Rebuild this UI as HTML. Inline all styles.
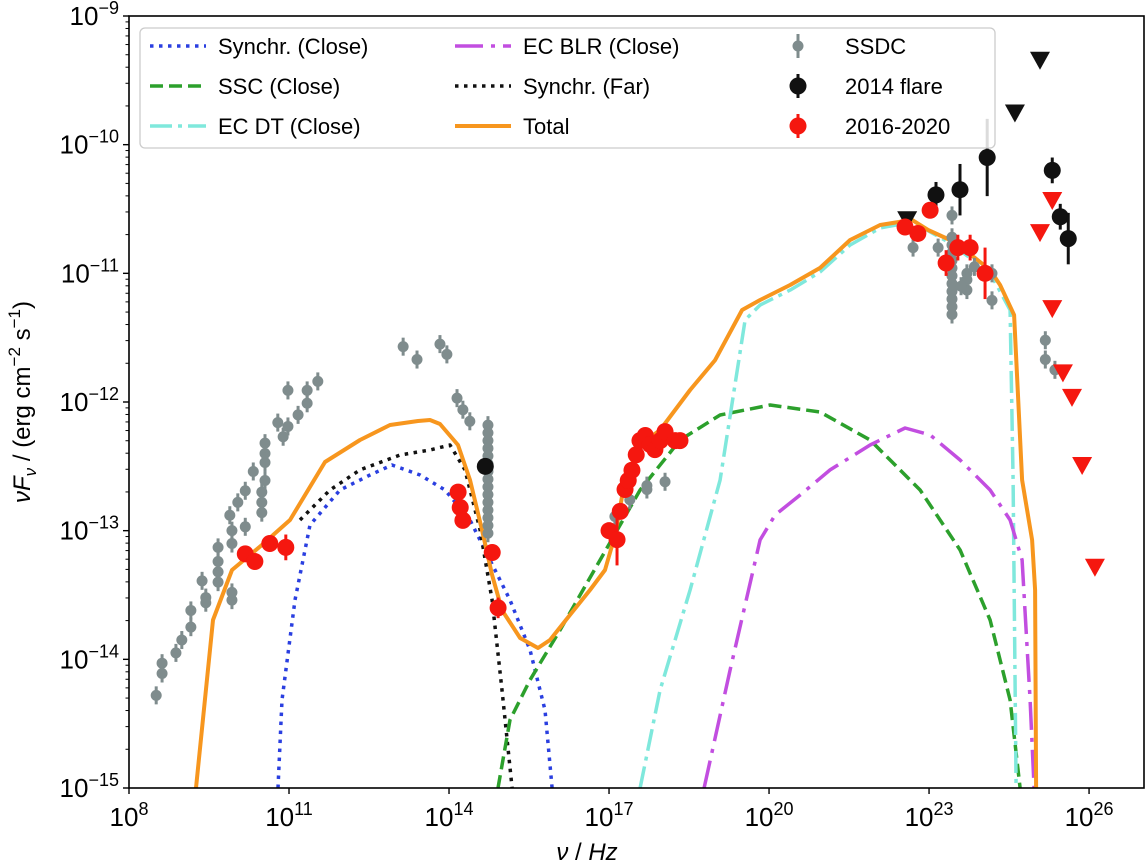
<!DOCTYPE html>
<html><head><meta charset="utf-8"><style>
html,body{margin:0;padding:0;background:#fff;}
svg{display:block;font-family:"Liberation Sans","DejaVu Sans",sans-serif;}
</style></head><body>
<svg id="chart" width="1148" height="868" viewBox="0 0 1148 868" xmlns="http://www.w3.org/2000/svg"></svg>
<script>
// ---- data (log10 nu, log10 nuFnu) ----
const totalX=[9.256,9.575,9.931,10.494,11.019,11.675,12.331,12.894,13.419,13.644,13.831,14.169,14.394,14.619,14.807,14.994,15.332,15.669,15.894,16.269,16.644,16.925,17.113,17.3,17.582,17.957,18.519,18.988,19.494,19.832,20.394,20.957,21.519,22.082,22.682,22.982,23.395,23.864,24.145,24.332,24.595,24.745,24.932,24.989,25.007];
const totalY=[-15,-13.694,-13.306,-13.111,-12.917,-12.466,-12.295,-12.179,-12.148,-12.14,-12.171,-12.334,-12.606,-12.995,-13.344,-13.617,-13.834,-13.912,-13.85,-13.655,-13.461,-13.306,-13.034,-12.606,-12.334,-12.218,-11.907,-11.674,-11.285,-11.207,-11.091,-10.958,-10.741,-10.624,-10.585,-10.663,-10.741,-10.881,-10.974,-11.091,-11.324,-12.606,-13.072,-13.461,-15];
const synCloseX=[10.794,10.869,11.113,11.394,11.956,12.519,12.931,13.457,13.925,14.394,14.769,15.144,15.519,15.8,15.932];
const synCloseY=[-15,-14.316,-13.539,-12.956,-12.684,-12.567,-12.49,-12.567,-12.684,-12.917,-13.228,-13.539,-13.927,-14.394,-15];
const synFarX=[11.206,11.769,12.331,13.081,13.644,14.019,14.3,14.582,14.807,14.994,15.182];
const synFarY=[-12.917,-12.684,-12.528,-12.412,-12.373,-12.334,-12.528,-12.995,-13.539,-14.238,-15];
const sscX=[14.919,15.144,15.519,16.082,16.832,17.582,18.332,19.082,20.019,20.957,21.894,22.832,23.582,24.145,24.52,24.707];
const sscY=[-15,-14.471,-14.161,-13.772,-13.228,-12.684,-12.295,-12.101,-12.023,-12.078,-12.295,-12.684,-13.15,-13.694,-14.316,-15];
const ecdtX=[17.582,17.957,18.519,19.082,19.551,19.832,20.394,20.957,21.519,22.082,22.682,23.395,24.145,24.52,24.576,24.632];
const ecdtY=[-15,-14.238,-13.461,-12.606,-11.363,-11.246,-11.13,-10.99,-10.78,-10.648,-10.601,-10.764,-10.997,-11.285,-12.606,-15];
const ecblrX=[18.782,19.269,19.832,20.113,20.582,21.144,21.894,22.551,23.02,23.582,24.145,24.52,24.745,24.895,24.97];
const ecblrY=[-15,-14.083,-13.072,-12.878,-12.723,-12.528,-12.334,-12.202,-12.256,-12.451,-12.684,-12.917,-13.228,-14.316,-15];
const ssdcX=[8.51,8.62,8.62,8.88,8.99,9.16,9.16,9.37,9.44,9.44,9.67,9.67,9.67,9.67,9.93,9.93,9.89,9.93,9.93,10.04,10.18,10.18,10.33,10.49,10.49,10.49,10.55,10.55,10.55,10.55,10.79,10.89,10.98,11.17,10.98,11.34,11.34,11.54,13.14,13.40,13.83,13.96,14.15,14.26,14.39,
 14.73,14.73,14.73,14.73,14.73,14.73,14.73,14.73,14.73,14.73,14.73,14.73,14.73,14.73,14.73,
 17.11,17.39,17.71,18.05,17.71,22.70,23.17,
 23.43,23.43,23.43,23.43,23.43,23.43,23.43,23.43,23.43,23.43,23.43,23.43,
 23.71,23.71,23.71,24.18,24.18,23.60,23.85,25.18,25.18,25.36];
const ssdcY=[-14.28,-14.03,-14.11,-13.95,-13.85,-13.75,-13.62,-13.39,-13.52,-13.56,-13.40,-13.32,-13.24,-13.13,-13.54,-13.48,-12.88,-13.00,-13.10,-12.78,-12.69,-12.97,-12.54,-12.86,-12.78,-12.70,-12.61,-12.47,-12.40,-12.32,-12.16,-12.27,-12.19,-12.10,-11.91,-12.01,-11.91,-11.84,-11.57,-11.67,-11.55,-11.63,-11.97,-12.06,-12.15,
 -12.18,-12.24,-12.30,-12.36,-12.42,-12.48,-12.54,-12.60,-12.66,-12.72,-12.78,-12.84,-12.90,-12.96,-13.02,
 -12.89,-12.76,-12.68,-12.62,-12.65,-10.80,-10.80,
 -10.55,-10.72,-10.78,-10.84,-10.90,-10.96,-11.02,-11.08,-11.14,-11.20,-11.26,-11.32,
 -11.00,-11.13,-11.05,-11.00,-11.21,-11.10,-10.95,-11.52,-11.67,-11.75];
const flareX=[14.68,23.13,23.58,24.09,25.31,25.46,25.61];
const flareY=[-12.50,-10.39,-10.35,-10.10,-10.20,-10.56,-10.73];
const flareErr=[0.05,0.1,0.2,0.3,0.1,0.1,0.2];
const flareUlX=[25.08,24.61,22.59];
const flareUlY=[-9.34,-9.75,-10.58];
const recentX=[10.18,10.36,10.64,10.94,14.17,14.21,14.26,14.81,14.92,17.00,17.15,17.21,17.30,17.36,17.43,17.51,17.58,17.68,17.77,17.86,17.96,18.05,18.24,18.33,22.55,22.79,23.02,23.32,23.54,23.77,24.05];
const recentY=[-13.18,-13.24,-13.10,-13.13,-12.70,-12.82,-12.92,-13.17,-13.60,-13.00,-13.07,-12.85,-12.68,-12.61,-12.53,-12.41,-12.30,-12.26,-12.33,-12.37,-12.30,-12.23,-12.30,-12.30,-10.64,-10.69,-10.51,-10.92,-10.80,-10.80,-11.00];
const recentErr=[0.04,0.04,0.04,0.1,0.04,0.04,0.04,0.04,0.08,0.04,0.2,0.05,0.05,0.05,0.05,0.05,0.05,0.05,0.05,0.05,0.05,0.05,0.04,0.04,0.05,0.04,0.04,0.1,0.1,0.1,0.2];
const recentUlX=[25.31,25.08,25.31,25.51,25.68,25.87,26.11];
const recentUlY=[-10.43,-10.68,-11.27,-11.77,-11.96,-12.49,-13.28];
const xTicks=[8,11,14,17,20,23,26];
const yTicks=[-15,-14,-13,-12,-11,-10,-9];

const L=129,R=1144,T=16,B=788;
const X=v=>L+(v-8)*(R-L)/(27.03-8);
const Y=v=>T+(-9-v)*(B-T)/6;
const NS="http://www.w3.org/2000/svg";
const svg=document.getElementById('chart');
function mk(tag,attrs,parent){const e=document.createElementNS(NS,tag);for(const k in attrs)e.setAttribute(k,attrs[k]);(parent||svg).appendChild(e);return e;}

const defs=mk('defs',{});
const cp=mk('clipPath',{id:'clip'},defs);mk('rect',{x:L,y:T,width:R-L,height:B-T},cp);
const plot=mk('g',{'clip-path':'url(#clip)'});



function line(xs,ys,color,dash,name,w){
  const d=xs.map((x,i)=>(i?'L':'M')+X(x).toFixed(1)+','+Y(ys[i]).toFixed(1)).join('');
  const p=mk('path',{d:d,fill:'none',stroke:color,'stroke-width':w||3.5,'stroke-dasharray':dash||'none','stroke-linejoin':'round'},plot);
  
  
}
line(synCloseX,synCloseY,'#2a3fe0','3.5,5.5','synchr-close-line');
line(synFarX,synFarY,'#111','3.5,5.5','synchr-far-line');
line(sscX,sscY,'#2ca02c','13,6','ssc-close-line');
line(ecdtX,ecdtY,'#7fe8dc','22,6,4,6','ec-dt-close-line');
line(ecblrX,ecblrY,'#c24ee0','28,8,4,8','ec-blr-close-line');
line(totalX,totalY,'#f7961e','none','total-line',4);

function pts(xs,ys,errs,color,r,name,defErr){
  xs.forEach((x,i)=>{
    const e=errs?errs[i]:defErr;const cx=X(x),cy=Y(ys[i]);
    const g=mk('g',{},plot);
    
    
    mk('line',{x1:cx,x2:cx,y1:Y(ys[i]+e),y2:Y(ys[i]-e),stroke:color,'stroke-width':3},g);
    mk('circle',{cx:cx,cy:cy,r:r,fill:color},g);
  });
}
function tri(xs,ys,color,name){
  xs.forEach((x,i)=>{const cx=X(x),cy=Y(ys[i]);
    const p=mk('polygon',{points:`${cx-10},${cy-8} ${cx+10},${cy-8} ${cx},${cy+10}`,fill:color},plot);
    
    
  });
}
pts(ssdcX,ssdcY,null,'#7f8c8d',5.5,'ssdc-point',0.07);
pts(flareX,flareY,flareErr,'#111',8.5,'flare-2014-point');
tri(flareUlX,flareUlY,'#111','flare-2014-upper-limit');
pts(recentX,recentY,recentErr,'#f5170f',8.5,'recent-2016-2020-point');
tri(recentUlX,recentUlY,'#f5170f','recent-upper-limit');

const fr=mk('rect',{x:L,y:T,width:R-L,height:B-T,fill:'none',stroke:'#000','stroke-width':1.6});


xTicks.forEach(t=>{const x=X(t);
  mk('line',{x1:x,x2:x,y1:B,y2:B+6,stroke:'#000','stroke-width':1.4});
  const tx=mk('text',{x:x,y:B+38,'font-size':26,'text-anchor':'middle'});
  
  
  tx.innerHTML=`10<tspan dy="-11" font-size="18">${t}</tspan>`;
});
yTicks.forEach(t=>{const y=Y(t);
  mk('line',{x1:L-6,x2:L,y1:y,y2:y,stroke:'#000','stroke-width':1.4});
  for(let m=2;m<10&&t<-9;m++){const ym=Y(t+Math.log10(m));mk('line',{x1:L-3.5,x2:L,y1:ym,y2:ym,stroke:'#000','stroke-width':1});}
  const tx=mk('text',{x:L-10,y:y+9,'font-size':26,'text-anchor':'end'});
  
  
  tx.innerHTML=`10<tspan dy="-11" font-size="18">\u2212${-t}</tspan>`;
});
const xt=mk('text',{x:587,y:860,'font-size':24,'text-anchor':'middle'});


xt.innerHTML='<tspan font-style="italic">ν</tspan> / <tspan font-style="italic">Hz</tspan>';
const yt=mk('text',{x:0,y:0,'font-size':24,'text-anchor':'middle',transform:'translate(30,402) rotate(-90)'});


yt.innerHTML='<tspan font-style="italic">νF</tspan><tspan font-style="italic" font-size="17" dy="6">ν</tspan><tspan dy="-6"> / (erg cm</tspan><tspan font-size="17" dy="-10">−2</tspan><tspan dy="10"> s</tspan><tspan font-size="17" dy="-10">−1</tspan><tspan dy="10">)</tspan>';

const lg=mk('g',{});


mk('rect',{x:140,y:28,width:855,height:120,rx:5,fill:'#fff','fill-opacity':0.85,stroke:'#ccc','stroke-width':1.3},lg);
const entries=[
 [150,46,'line','#2a3fe0','3.5,5.5','Synchr. (Close)'],
 [150,86,'line','#2ca02c','13,6','SSC (Close)'],
 [150,126,'line','#7fe8dc','22,6,4,6','EC DT (Close)'],
 [455,46,'line','#c24ee0','28,8,4,8','EC BLR (Close)'],
 [455,86,'line','#111','3.5,5.5','Synchr. (Far)'],
 [455,126,'line','#f7961e','none','Total'],
 [770,46,'pt','#7f8c8d',5.5,'SSDC'],
 [770,86,'pt','#111',8.5,'2014 flare'],
 [770,126,'pt','#f5170f',8.5,'2016-2020']];
entries.forEach(e=>{
  const g=mk('g',{},lg);
  
  
  if(e[2]==='line'){mk('line',{x1:e[0],x2:e[0]+56,y1:e[1],y2:e[1],stroke:e[3],'stroke-width':e[5]==='Total'?4:3.5,'stroke-dasharray':e[4]},g);}
  else{mk('line',{x1:e[0]+28,x2:e[0]+28,y1:e[1]-12,y2:e[1]+12,stroke:e[3],'stroke-width':3},g);mk('circle',{cx:e[0]+28,cy:e[1],r:e[4],fill:e[3]},g);}
  const t=mk('text',{x:e[0]+(e[2]==='line'?68:75),y:e[1]+8,'font-size':22},g);t.textContent=e[5];
});
</script>
</body></html>
